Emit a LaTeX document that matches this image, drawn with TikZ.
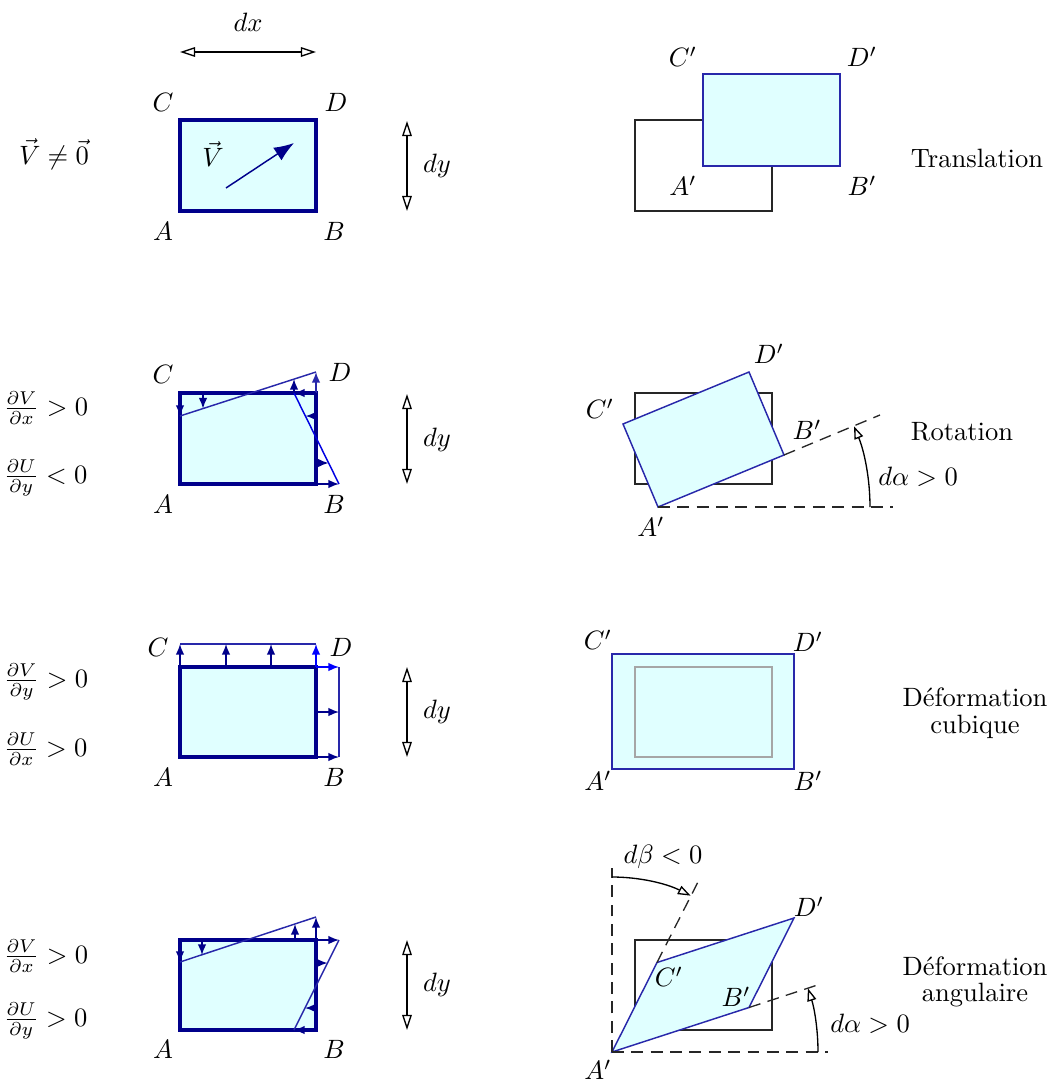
\documentclass[tikz,border=0pt]{standalone}
\usetikzlibrary{arrows.meta}
\definecolor{lcyan}{RGB}{224,255,255}
\definecolor{navyb}{RGB}{0,0,139}
\definecolor{midb}{RGB}{40,40,170}
\definecolor{brightb}{RGB}{0,0,255}
\begin{document}
\begin{tikzpicture}[x=0.377pt,y=-0.377pt,
 lbl/.style={inner sep=0pt},
 thickbox/.style={draw=navyb, line width=1.25pt, fill=lcyan},
 thinbox/.style={draw=midb, line width=0.55pt, fill=lcyan},
 oldbox/.style={draw=black!85, line width=0.5pt},
 defl/.style={draw=midb, line width=0.55pt},
 varr/.style={draw=navyb, line width=0.55pt, -{Latex[length=4pt,width=3.2pt]}},
 dimarr/.style={draw=black, line width=0.5pt, {Triangle[open,length=5.7pt,width=3.6pt]}-{Triangle[open,length=5.7pt,width=3.6pt]}},
 angarr/.style={draw=black, line width=0.5pt, -{Triangle[open,length=4.8pt,width=3.4pt]}},
 dashl/.style={draw=black!85, line width=0.5pt, dash pattern=on 4.5pt off 2.8pt},
]
\useasboundingbox (0,0) rectangle (1059,1086);

% ===== Row 1 : translation =====
\coordinate (A1) at (180,211); \coordinate (D1) at (316,120);
\draw[thickbox] (A1) rectangle (D1);
\coordinate (v0) at (226,188); \coordinate (v1) at (294,143);
\draw[draw=navyb, line width=0.55pt, -{Latex[length=7.5pt,width=5.7pt]}] (v0) -- (v1);
\node[lbl] (vlab) at (213,154) {$\vec V$};
\node[lbl] (lC1) at (163,102) {$C$};
\node[lbl] (lD1) at (336,102) {$D$};
\node[lbl] (lA1) at (163,231) {$A$};
\node[lbl] (lB1) at (334,231) {$B$};
\coordinate (dx0) at (180,52); \coordinate (dx1) at (316,52);
\draw[dimarr] (dx0) -- (dx1);
\node[lbl] (dxl) at (248,22) {$dx$};
\coordinate (dy10) at (407,121); \coordinate (dy11) at (407,211);
\draw[dimarr] (dy10) -- (dy11);
\node[lbl] (dyl1) at (437,166) {$dy$};
\node[lbl] (cond1) at (54,154) {$\vec V\neq\vec 0$};

\coordinate (oA1) at (635,211); \coordinate (oD1) at (772,120);
\draw[oldbox] (oA1) rectangle (oD1);
\coordinate (tA1) at (703,166); \coordinate (tD1) at (840,74);
\draw[thinbox] (tA1) rectangle (tD1);
\node[lbl] (pC1) at (683,57) {$C'$};
\node[lbl] (pD1) at (862,57) {$D'$};
\node[lbl] (pA1) at (683,186) {$A'$};
\node[lbl] (pB1) at (862,186) {$B'$};
\node[lbl] (t1) at (977,158) {Translation};

% ===== Row 2 : rotation =====
\coordinate (A2) at (180,484); \coordinate (D2) at (316,393);
\draw[thickbox] (A2) rectangle (D2);
\coordinate (c2) at (180,416); \coordinate (d2) at (316,372);
\coordinate (b2) at (339,484); \coordinate (e2) at (294,393);
\draw[defl] (c2) -- (d2);
\draw[defl, draw=blue!75!navyb] (b2) -- (e2);
\draw[varr] (180,393) -- (180,416);
\draw[varr] (203,393) -- (203,408.6);
\draw[varr] (294,393) -- (294,379);
\draw[varr, draw=midb] (316,393) -- (316,372);
\draw[varr] (316,393) -- (294,393);
\draw[varr] (316,416) -- (305.5,416);
\draw[varr] (316,463) -- (328.6,463);
\draw[varr] (316,484) -- (339,484);
\node[lbl] (lC2) at (163,374) {$C$};
\node[lbl] (lD2) at (340,372) {$D$};
\node[lbl] (lA2) at (163,504) {$A$};
\node[lbl] (lB2) at (334,504) {$B$};
\coordinate (dy20) at (407,394); \coordinate (dy21) at (407,484);
\draw[dimarr] (dy20) -- (dy21);
\node[lbl] (dyl2) at (437,440) {$dy$};
\node[lbl, anchor=west] (cond2a) at (3,408) {$\frac{\partial V}{\partial x}>0$};
\node[lbl, anchor=west] (cond2b) at (3,478) {$\frac{\partial U}{\partial y}<0$};

\coordinate (oA2) at (635,484); \coordinate (oD2) at (772,393);
\draw[oldbox] (oA2) rectangle (oD2);
\coordinate (rA) at (658,507); \coordinate (rB) at (784,455);
\coordinate (rD) at (749,372); \coordinate (rC) at (623,424);
\draw[thinbox] (rA) -- (rB) -- (rD) -- (rC) -- cycle;
\coordinate (rH) at (893,507); \coordinate (rE) at (880,415);
\draw[dashl] (rA) -- (rH);
\draw[dashl] (rB) -- (rE);
\coordinate (ra0) at (870,507);
\draw[angarr] (ra0) arc[start angle=0, end angle=-22.4, radius=212];
\node[lbl] (pD2) at (769,354) {$D'$};
\node[lbl] (pC2) at (600,409) {$C'$};
\node[lbl] (pB2) at (807,430) {$B'$};
\node[lbl] (pA2) at (651,527) {$A'$};
\node[lbl] (al2) at (918,477) {$d\alpha>0$};
\node[lbl] (t2) at (962,432) {Rotation};

% ===== Row 3 : deformation cubique =====
\coordinate (A3) at (180,757); \coordinate (D3) at (316,667);
\draw[thickbox] (A3) rectangle (D3);
\coordinate (c3) at (180,644); \coordinate (d3) at (316,644);
\coordinate (b3) at (339,757); \coordinate (e3) at (339,667);
\draw[defl] (c3) -- (d3);
\draw[defl] (b3) -- (e3);
\draw[varr] (180,667) -- (c3);
\draw[varr] (226,667) -- (226,644);
\draw[varr] (271,667) -- (271,644);
\draw[varr, draw=brightb] (316,667) -- (d3);
\draw[varr, draw=brightb] (316,667) -- (e3);
\draw[varr] (316,712) -- (339,712);
\draw[varr] (316,757) -- (b3);
\node[lbl] (lC3) at (158,647) {$C$};
\node[lbl] (lD3) at (341,647) {$D$};
\node[lbl] (lA3) at (163,777) {$A$};
\node[lbl] (lB3) at (334,777) {$B$};
\coordinate (dy30) at (407,667); \coordinate (dy31) at (407,757);
\draw[dimarr] (dy30) -- (dy31);
\node[lbl] (dyl3) at (437,712) {$dy$};
\node[lbl, anchor=west] (cond3a) at (3,682) {$\frac{\partial V}{\partial y}>0$};
\node[lbl, anchor=west] (cond3b) at (3,749) {$\frac{\partial U}{\partial x}>0$};

\coordinate (sA) at (612,769); \coordinate (sD) at (794,654);
\draw[thinbox] (sA) rectangle (sD);
\coordinate (oA3) at (635,757); \coordinate (oD3) at (772,667);
\draw[draw=black!35, line width=0.5pt] (oA3) rectangle (oD3);
\node[lbl] (pC3) at (598,640) {$C'$};
\node[lbl] (pD3) at (808,642) {$D'$};
\node[lbl] (pA3) at (598,781) {$A'$};
\node[lbl] (pB3) at (808,781) {$B'$};
\node[lbl] (t3) at (975,713) {\shortstack{Déformation\\cubique}};

% ===== Row 4 : deformation angulaire =====
\coordinate (A4) at (180,1030); \coordinate (D4) at (316,940);
\draw[thickbox] (A4) rectangle (D4);
\coordinate (c4) at (180,962); \coordinate (d4) at (316,917);
\coordinate (b4) at (294,1030); \coordinate (e4) at (339,940);
\draw[defl] (c4) -- (d4);
\draw[defl] (b4) -- (e4);
\draw[varr] (180,940) -- (c4);
\draw[varr] (202,940) -- (202,955);
\draw[varr] (295,940) -- (295,924);
\draw[varr] (316,940) -- (d4);
\draw[varr] (316,940) -- (e4);
\draw[varr] (316,963) -- (327.5,963);
\draw[varr] (316,1008) -- (305,1008);
\draw[varr] (316,1030) -- (b4);
\node[lbl] (lA4) at (163,1049) {$A$};
\node[lbl] (lB4) at (334,1049) {$B$};
\coordinate (dy40) at (407,940); \coordinate (dy41) at (407,1030);
\draw[dimarr] (dy40) -- (dy41);
\node[lbl] (dyl4) at (437,985) {$dy$};
\node[lbl, anchor=west] (cond4a) at (3,956) {$\frac{\partial V}{\partial x}>0$};
\node[lbl, anchor=west] (cond4b) at (3,1021) {$\frac{\partial U}{\partial y}>0$};

\coordinate (oA4) at (635,1030); \coordinate (oD4) at (772,940);
\draw[oldbox] (oA4) rectangle (oD4);
\coordinate (qA) at (612,1052); \coordinate (qB) at (749,1007.5);
\coordinate (qD) at (794,918); \coordinate (qC) at (657,962.5);
\draw[thinbox] (qA) -- (qB) -- (qD) -- (qC) -- cycle;
\coordinate (qV) at (612,868); \coordinate (qH) at (828,1052);
\coordinate (qCe) at (700,878); \coordinate (qBe) at (817.5,985);
\draw[dashl] (qA) -- (qV);
\draw[dashl] (qA) -- (qH);
\draw[dashl] (qC) -- (qCe);
\draw[dashl] (qB) -- (qBe);
\coordinate (qb0) at (612,877);
\draw[angarr] (qb0) arc[start angle=-90, end angle=-63.3, radius=175];
\coordinate (qa0) at (818,1052);
\draw[angarr] (qa0) arc[start angle=0, end angle=-18, radius=206];
\node[lbl] (be4) at (663,857) {$d\beta<0$};
\node[lbl] (pD4) at (809,907) {$D'$};
\node[lbl] (pC4) at (669,977) {$C'$};
\node[lbl] (pB4) at (736,997) {$B'$};
\node[lbl] (pA4) at (598,1070) {$A'$};
\node[lbl] (al4) at (870,1024) {$d\alpha>0$};
\node[lbl] (t4) at (975,982) {\shortstack{Déformation\\angulaire}};
\end{tikzpicture}
\end{document}
